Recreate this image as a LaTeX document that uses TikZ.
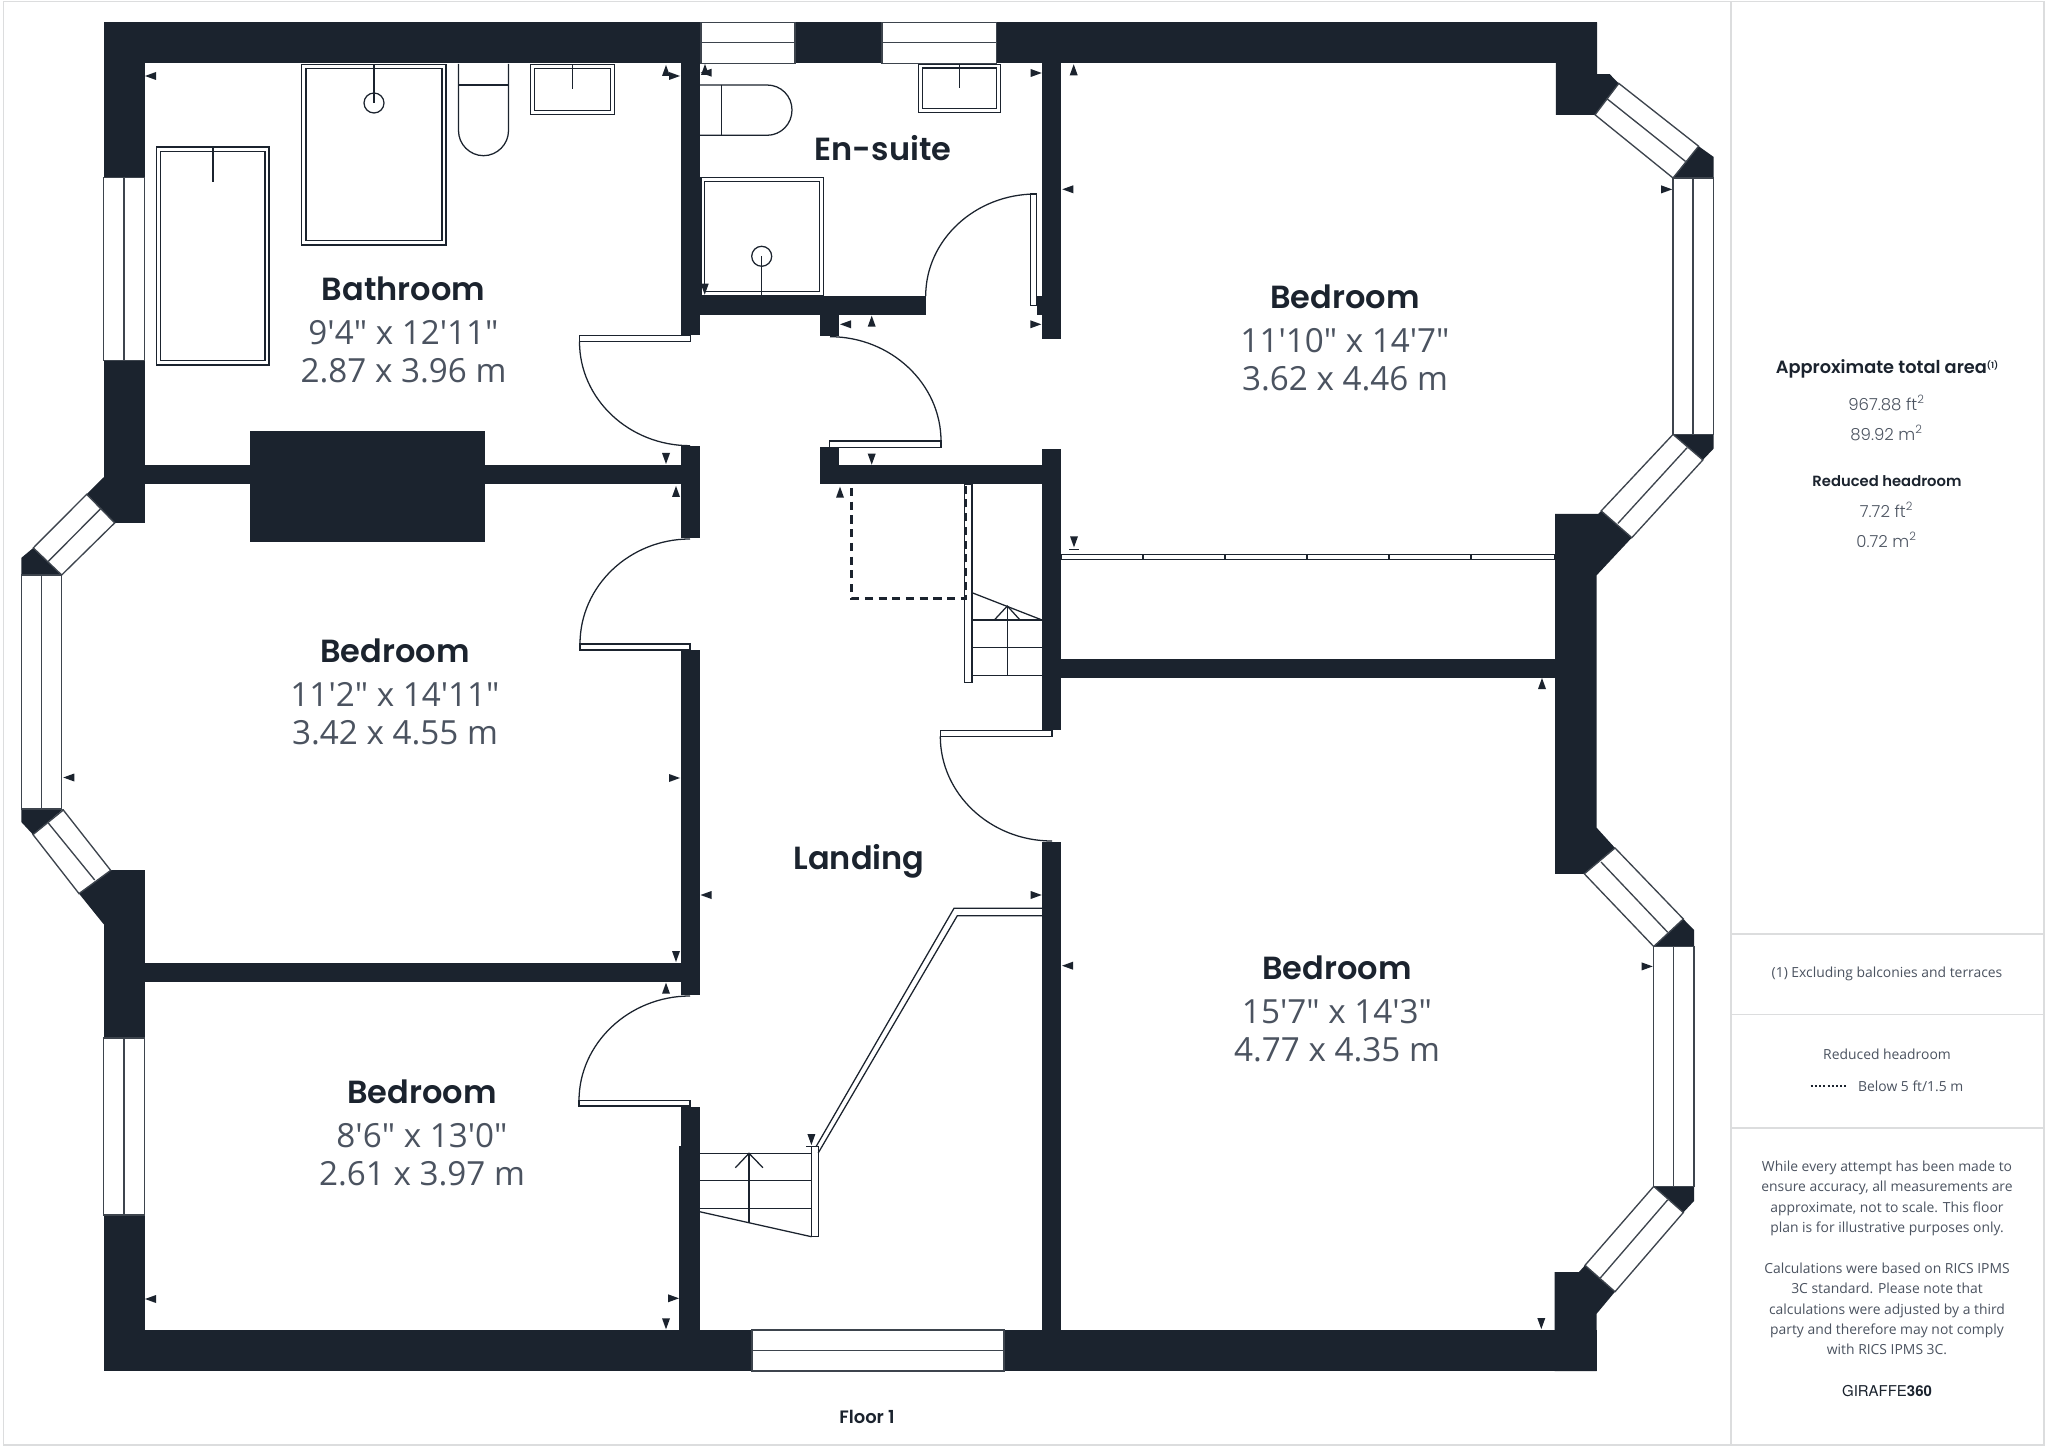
\documentclass[tikz,border=0pt]{standalone}
\usepackage{fontspec}
\setmainfont{Open Sans}
\newfontfamily\dimfont{Open Sans}
\newfontfamily\headfont{Poppins SemiBold}
\newfontfamily\numfont{Poppins Light}
\newfontfamily\logofont{TeX Gyre Heros}
\usetikzlibrary{positioning}
\definecolor{wallc}{HTML}{1B232E}
\definecolor{textc}{HTML}{4B5360}
\definecolor{framec}{HTML}{DCDDDE}
\tikzset{
	wall/.style={fill=wallc, draw=none},
	pane/.style={draw=wallc!85!white, fill=white, line width=0.38pt},
	fixture/.style={draw=wallc, fill=white, line width=0.36pt},
	swing/.style={draw=wallc, line width=0.36pt},
	framed/.style={draw=framec, line width=0.4pt},
	roomname/.style={font=\headfont\fontsize{9.1}{10}\selectfont, text=wallc, inner sep=0pt},
	roomdim/.style={font=\dimfont\fontsize{9.45}{10.8}\selectfont, text=textc, align=center, inner sep=0pt, below of=#1, node distance=0.63cm},
	paneltext/.style={font=\fontsize{3.95}{5.8}\selectfont, text=textc, align=center, inner sep=0pt},
	panelnum/.style={font=\numfont\fontsize{4.7}{5}\selectfont, text=textc, inner sep=0pt},
	panelhead/.style={font=\headfont\fontsize{#1}{6}\selectfont, text=wallc, inner sep=0pt},
}

\begin{document}
\begin{tikzpicture}[x=0.01cm, y=-0.01cm]
	\useasboundingbox (0,0) rectangle (2048,1446);
	\fill[white] (0,0) rectangle (2048,1446);

	% page frame and side panel
	\draw[framed] (3.5,1.5) rectangle (2044,1445);
	\draw[framed] (1731,1.5) -- (1731,1445);
	\foreach \ypos in {934,1014.5,1128}
		\draw[framed] (1731,\ypos) -- (2044,\ypos);

	% outer walls
	\fill[wall] (103.5,22.3) rectangle (1597,63.3);
	\fill[wall] (103.5,22.3) rectangle (144.5,522.9);
	\fill[wall] (103.5,870.4) rectangle (144.5,1371);
	\fill[wall] (103.5,1330) rectangle (1596.5,1371);
	\fill[wall] (103.5,477.5) -- (86.7,494.3) -- (114.7,522.9) -- (144.5,522.9) -- (144.5,477.5) -- cycle;
	\fill[wall] (110.7,870.4) -- (79,893.6) -- (103.5,924) -- (144.5,924) -- (144.5,870.4) -- cycle;
	\fill[wall] (33.3,547.9) -- (61.7,575) -- (21.3,575) -- (21.3,557.9) -- cycle;
	\fill[wall] (21.3,809) -- (63.3,809) -- (33,834.6) -- (21.3,822) -- cycle;
	\fill[wall] (1597,22.3) -- (1597,74.2) -- (1609.7,74.2) -- (1618.8,83.4) -- (1595,114.8) -- (1555.9,114.8) -- (1555.9,22.3) -- cycle;
	\fill[wall] (1698.6,146.2) -- (1713.7,157) -- (1713.7,178) -- (1673,178) -- cycle;
	\fill[wall] (1673,434.4) -- (1713.7,434.4) -- (1713.7,448.5) -- (1702.8,460) -- cycle;
	\fill[wall] (1555,514) -- (1598,514) -- (1601.2,510.9) -- (1631.8,537.7) -- (1596.7,575.2) -- (1596.7,827.8) -- (1615,848) -- (1584.3,873.8) -- (1555,873.8) -- cycle;
	\fill[wall] (1683.3,919) -- (1694,930) -- (1694,946.5) -- (1653.7,946.5) -- cycle;
	\fill[wall] (1653.7,1186.4) -- (1694,1186.4) -- (1694,1201) -- (1683.3,1212.5) -- cycle;
	\fill[wall] (1554.5,1272) -- (1579,1272) -- (1585,1265.3) -- (1615,1291.7) -- (1596.5,1313.9) -- (1596.5,1371) -- (1554.5,1371) -- cycle;

	% inner walls
	\fill[wall] (144,465) rectangle (681,484);
	\fill[wall] (250,431) rectangle (484.8,542.3);
	\fill[wall] (144,962.5) rectangle (681,981.8);
	\fill[wall] (680.8,22.3) rectangle (700,335);
	\fill[wall] (680.8,446) rectangle (699.6,538);
	\fill[wall] (680.8,650) rectangle (699.6,995);
	\fill[wall] (680.8,1106.7) rectangle (699.6,1330);
	\fill[wall] (679,1145.7) rectangle (699.6,1330);
	\fill[wall] (1042,22.3) rectangle (1061.3,339.3);
	\fill[wall] (1042,448.7) rectangle (1061.3,730);
	\fill[wall] (1042,841.7) rectangle (1061.3,1330);
	\fill[wall] (820,465) rectangle (1042,484.3);
	\fill[wall] (820,447.3) rectangle (839.3,484.3);
	\fill[wall] (700,296) rectangle (925.7,315);
	\fill[wall] (820,315) rectangle (839.3,336);
	\fill[wall] (1036.7,296) rectangle (1042,315);
	\fill[wall] (1061,658.7) rectangle (1555,677.7);

	% windows
	\foreach \xa/\ya/\xb/\yb/\xm/\ym/\xn/\yn in {
		103.5/177.7/144.5/360.7/124/177.7/124/360.7,
		103.5/1038/144.5/1215/124/1038/124/1215,
		752/1330/1004/1371/752/1350.7/1004/1350.7,
		701/22.3/795/63.3/701/42.7/795/42.7,
		882/22.3/996.3/63.3/882/42.7/996.3/42.7,
		21.3/575/61.7/809/41.7/575/41.7/809,
		1673/178/1713.7/434.4/1693/178/1693/434.4,
		1653.7/946.5/1694/1186.4/1673.7/946.5/1673.7/1186.4}
	{
		\draw[pane] (\xa,\ya) rectangle (\xb,\yb);
		\draw[pane] (\xm,\ym) -- (\xn,\yn);
	}
	\draw[pane] (86.7,494.3) -- (114.7,522.9) -- (61.7,575) -- (33.3,547.9) -- cycle;
	\draw[pane] (100.7,508.6) -- (48.3,561.4);
	\draw[pane] (63.3,810) -- (110.7,870.4) -- (79,893.6) -- (33,834.6) -- cycle;
	\draw[pane] (48.3,823) -- (94.7,880);
	\draw[pane] (1618.8,83.4) -- (1698.6,146.2) -- (1673,178) -- (1595,114.8) -- cycle;
	\draw[pane] (1606.9,98.7) -- (1685.6,161.5);
	\draw[pane] (1673,434.4) -- (1702.8,460) -- (1631.8,537.7) -- (1601.2,510.9) -- cycle;
	\draw[pane] (1687,447.8) -- (1617.8,523.5);
	\draw[pane] (1615,848) -- (1683.3,919) -- (1653.7,946.5) -- (1584.3,873.8) -- cycle;
	\draw[pane] (1601,862) -- (1667.7,932.3);
	\draw[pane] (1653.7,1186.4) -- (1683.3,1212.5) -- (1615,1291.7) -- (1585,1265.3) -- cycle;
	\draw[pane] (1667.7,1199.8) -- (1600,1278.3);

	% bathroom fittings
	\draw[fixture] (156.7,147) rectangle (269,365);
	\draw[fixture] (160.7,151.7) rectangle (265,360.7);
	\draw[swing] (213,147) -- (213,182);
	\draw[fixture] (301.8,64.7) rectangle (446,245);
	\draw[fixture] (306,68.3) rectangle (442,240.7);
	\draw[swing] (374,103) circle (10);
	\draw[swing] (374,64.7) -- (374,103);
	\draw[fixture] (458.5,64) -- (458.5,130.7) .. controls (458.5,144.5) and (470,155.7) .. (483.5,155.7) .. controls (497,155.7) and (508.5,144.5) .. (508.5,130.7) -- (508.5,64);
	\draw[swing] (458.5,85) -- (508.5,85);
	\draw[fixture] (530.8,64.7) rectangle (614.7,114.7);
	\draw[fixture] (534.8,68.3) rectangle (610.7,110.3);
	\draw[swing] (572.8,64.7) -- (572.8,89);

	% en-suite fittings
	\draw[fixture] (700,85) -- (767,85) .. controls (781,85) and (792,96) .. (792,110) .. controls (792,124) and (781,135.3) .. (767,135.3) -- (700,135.3);
	\draw[swing] (721.3,85) -- (721.3,135.3);
	\draw[fixture] (918.7,64.3) rectangle (1000.7,112.7);
	\draw[fixture] (922.7,68) rectangle (996.7,108.3);
	\draw[swing] (959.7,64.3) -- (959.7,88);
	\draw[fixture] (701,177.3) rectangle (823.3,295.3);
	\draw[fixture] (704.7,181.3) rectangle (819.3,291.7);
	\draw[swing] (761.7,256.3) circle (10);
	\draw[swing] (761.7,256.3) -- (761.7,295.3);

	% doors
	\draw[fixture] (579.5,335.3) rectangle (690.6,341.7);
	\draw[swing] (579.5,341.7) .. controls (579.5,399) and (629,445.7) .. (690,445.7);
	\draw[fixture] (580,644) rectangle (690,650);
	\draw[swing] (580,644) .. controls (580,586) and (629.5,539) .. (690,539);
	\draw[fixture] (579,1100.7) rectangle (690,1106);
	\draw[swing] (579,1100.7) .. controls (579,1043) and (629.5,996) .. (690,996);
	\draw[fixture] (829.3,441) rectangle (941,447.3);
	\draw[swing] (830,336.7) .. controls (891,336.7) and (941,384) .. (941,441);
	\draw[fixture] (1030.3,194) rectangle (1036.7,305.7);
	\draw[swing] (925.7,296) .. controls (925.7,240) and (975,194) .. (1036,194);
	\draw[fixture] (940.3,730.3) rectangle (1052,736.3);
	\draw[swing] (940.3,736.3) .. controls (940.3,794) and (990.5,841) .. (1052,841);

	% wardrobe front
	\draw[fixture] (1061,554.3) rectangle (1555,559.3);
	\foreach \xpos in {1143,1225,1307,1389,1471}
		\draw[swing] (\xpos,554.3) -- (\xpos,559.3);

	% upper stairs
	\foreach \ypos in {620,647.7,675.3}
		\draw[swing] (972,\ypos) -- (1042,\ypos);
	\draw[swing] (972,592.7) -- (1042,620);
	\draw[swing] (1007.3,675.3) -- (1007.3,606);
	\draw[swing] (994.3,620) -- (1007.3,606) -- (1020,620);
	\draw[fixture] (964.7,484.3) rectangle (972,682.7);
	\draw[wallc, line width=0.75pt, dash pattern=on 2.3pt off 1.6pt] (851.7,488) -- (851.7,598.3) -- (966,598.3) -- (966,486);

	% lower stairs
	\foreach \ypos in {1153.3,1180.7,1208.7}
		\draw[swing] (699.6,\ypos) -- (811.4,\ypos);
	\draw[swing] (699.6,1211.7) -- (811.4,1236.7);
	\draw[swing] (749,1153.3) -- (749,1222.7);
	\draw[swing] (735.4,1167.7) -- (749,1153.3) -- (762.9,1167.7);
	\draw[fixture] (811.4,1146.7) rectangle (818.2,1236.7);
	\draw[swing] (1042,908.3) -- (954,908.3) -- (816,1146.7);
	\draw[swing] (1042,915.7) -- (957.3,915.7) -- (818.2,1153);

	% measure marks
	\foreach \xpos/\ypos/\turn in {
		145/76/0, 680/76/180, 666/65/-90, 666/464/90, 676/486/-90,
		700.7/72.7/0, 705/64/-90, 1041.7/73/180, 1073.7/64.3/-90, 1062.3/189.3/0,
		704.7/294.7/90, 840/324.3/0, 871.7/315.7/-90, 1041.3/324.3/180,
		871.7/464.7/90, 840/486.7/-90, 1074/547.3/90, 1041.7/895/180,
		1542/678/-90, 1672.2/189.4/180, 63.3/777.5/0, 680/778/180, 700.5/895/0,
		676/962/90, 666/982.7/-90, 679/1298.3/180, 666/1329.3/90, 811.4/1145/90,
		1062/965.7/0, 145/1299/0, 1541.3/1329/90, 1652.7/966.4/180}
		\fill[wallc, shift={(\xpos,\ypos)}, rotate=\turn] (0,0) -- (11,4) -- (11,-4) -- cycle;
	\draw[swing] (1069,549.5) -- (1079,549.5);
	\draw[swing] (806,1146.5) -- (816,1146.5);

	% room labels
	\node[roomname] (bath) at (403.5,289) {Bathroom};
	\node[roomdim=bath] (bathdim) {9'4" x 12'11"\\2.87 x 3.96 m};
	\node[roomname] (suite) at (883,148) {En-suite};
	\node[roomname] (bedne) at (1345,296.5) {Bedroom};
	\node[roomdim=bedne] (bednedim) {11'10" x 14'7"\\3.62 x 4.46 m};
	\node[roomname] (bedw) at (395,651) {Bedroom};
	\node[roomdim=bedw] (bedwdim) {11'2" x 14'11"\\3.42 x 4.55 m};
	\node[roomname] (bedsw) at (422,1092) {Bedroom};
	\node[roomdim=bedsw] (bedswdim) {8'6" x 13'0"\\2.61 x 3.97 m};
	\node[roomname] (bedse) at (1337,967.5) {Bedroom};
	\node[roomdim=bedse] (bedsedim) {15'7" x 14'3"\\4.77 x 4.35 m};
	\node[roomname] (landing) at (859,861) {Landing};
	\node[panelhead=5.1] (floor) at (867,1417) {Floor 1};

	% side panel text
	\node[panelhead=5.05] (areahead) at (1887,369.3) {Approximate total area\raisebox{1.6pt}{\fontsize{2.4}{3}\selectfont (1)}};
	\node[panelnum] (areaft) at (1887,403) {967.88 ft\textsuperscript{2}};
	\node[panelnum] (aream) at (1887,433) {89.92 m\textsuperscript{2}};
	\node[panelhead=4.2] (lowhead) at (1887,481) {Reduced headroom};
	\node[panelnum] (lowft) at (1887,510) {7.72 ft\textsuperscript{2}};
	\node[panelnum] (lowm) at (1887,539.6) {0.72 m\textsuperscript{2}};
	\node[paneltext] (exclude) at (1887,973.5) {(1) Excluding balconies and terraces};
	\node[paneltext] (lowkey) at (1887,1054.5) {Reduced headroom};
	\node[paneltext] (lowbelow) at (1910.7,1086) {Below 5 ft/1.5 m};
	\draw[wallc, line width=0.3pt, dash pattern=on 0.6pt off 0.6pt] (1810.7,1086) -- (1846,1086);
	\node[paneltext] (notice) at (1887,1258) {While every attempt has been made to\\ensure accuracy, all measurements are\\approximate, not to scale. This floor\\plan is for illustrative purposes only.\\[5.8pt]Calculations were based on RICS IPMS\\3C standard. Please note that\\calculations were adjusted by a third\\party and therefore may not comply\\with RICS IPMS 3C.};
	\node[paneltext, font=\logofont\fontsize{4.25}{5}\selectfont, text=wallc] (logo) at (1887,1391) {GIRAFFE\textbf{360}};
\end{tikzpicture}
\end{document}
